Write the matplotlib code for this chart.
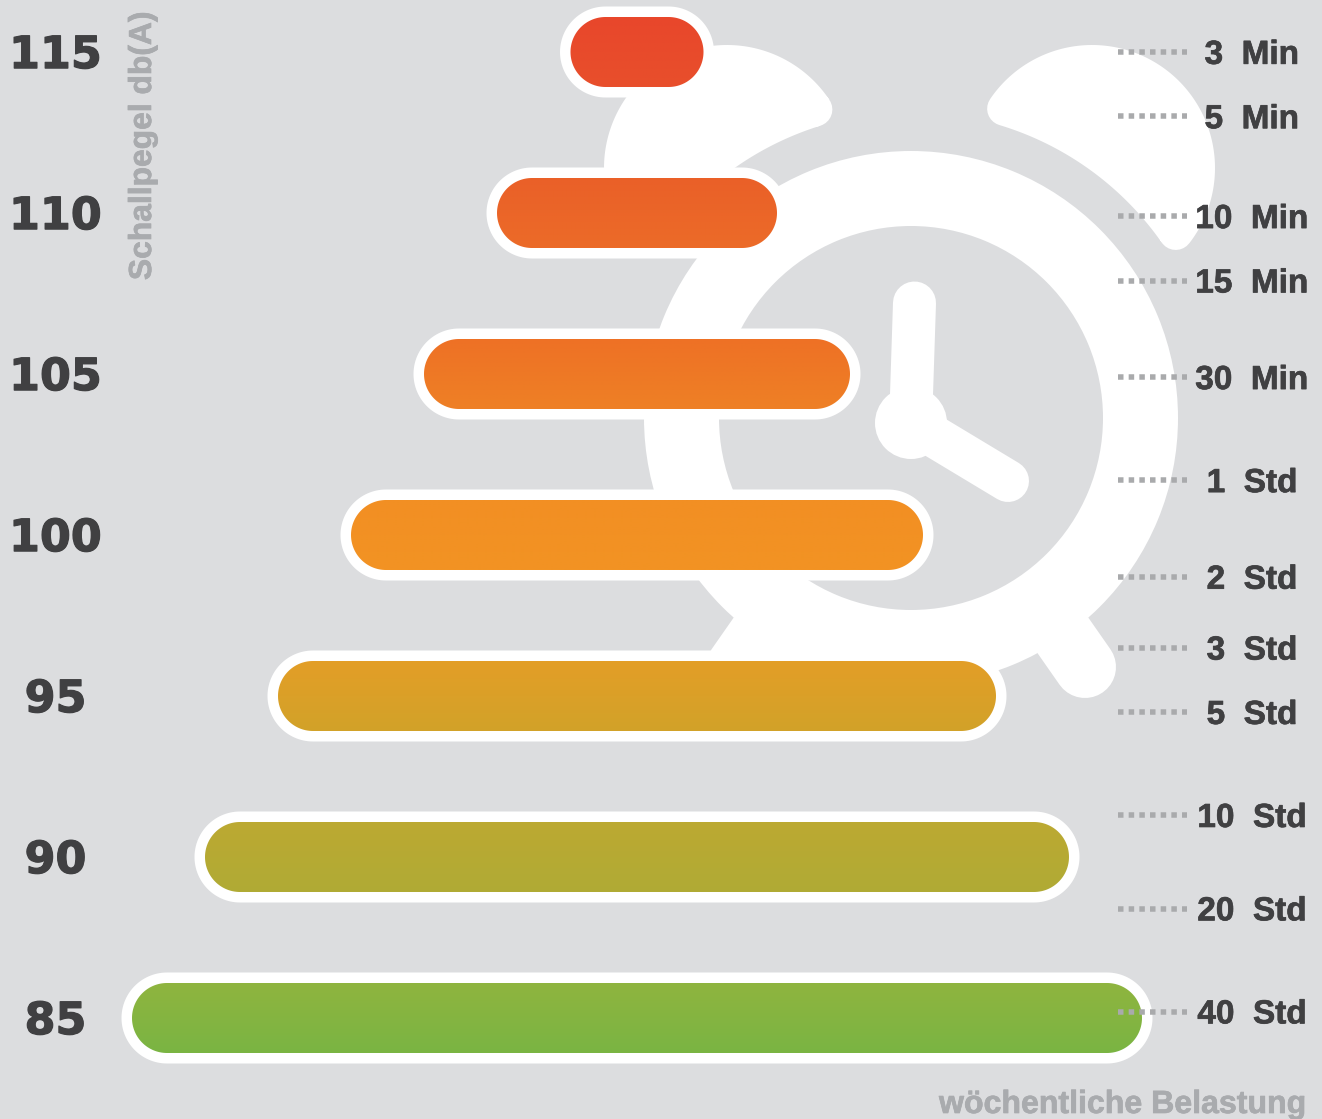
import numpy as np
import matplotlib
matplotlib.use("Agg")
import matplotlib.pyplot as plt
import matplotlib.patheffects as pe
from matplotlib.path import Path
from matplotlib.patches import PathPatch, Circle, Wedge
from matplotlib.transforms import Affine2D

# ---- data ----
levels_db = [115, 110, 105, 100, 95, 90, 85]
bar_lengths = [133, 280, 426, 572, 718, 864, 1010]
colors_top = ["#e8472b", "#ea6028", "#ee7125", "#f28f23", "#e39e27", "#bca932", "#8fb43f"]
colors_bottom = ["#e84f2c", "#ec6b28", "#ee8026", "#f29323", "#d2a229", "#b0ab35", "#7ab543"]
exposure_labels = ["3  Min", "5  Min", "10  Min", "15  Min", "30  Min", "1  Std", "2  Std",
                   "3  Std", "5  Std", "10  Std", "20  Std", "40  Std"]
exposure_db = [115.0, 113.0, 109.9, 107.9, 104.9, 101.7, 98.7, 96.5, 94.5, 91.3, 88.4, 85.2]
y_title = "Schallpegel db(A)"
x_title = "wöchentliche Belastung"

BG = "#dcdddf"
DARK = "#404042"
GREY = "#a9abae"
W, H = 1322, 1119
PX = 0.72
PX_PER_DB = 32.2
Y115 = 52.0
BAR_CX = 637.0

fig = plt.figure(figsize=(W / 100, H / 100), dpi=100, facecolor=BG)
ax = fig.add_axes([0, 0, 1, 1])
ax.set_axis_off()
deco = Affine2D().scale(1, -1).translate(0, H)  # pixel layout, y down


def rgb(c):
    return np.array(matplotlib.colors.to_rgb(c))


def heavy(px, color):
    return [pe.withStroke(linewidth=px * PX, foreground=color)]


# ---- clock silhouette ----
CX, CY = 911.0, 418.0
clock = dict(color="white", lw=0, transform=deco, zorder=1)
ax.add_patch(Wedge((CX, CY), 267, 0, 360, width=75, **clock))


def bell(offset):
    bx, by = CX + offset, 168.0
    r, R = 106.0, 323.0
    d = np.hypot(bx - CX, by - CY)
    base = np.arctan2(by - CY, bx - CX)
    half = np.arccos((R**2 + d**2 - r**2) / (2 * R * d))
    outer = np.linspace(base - half, base + half, 80)
    inner_pts = np.c_[CX + R * np.cos(outer), CY + R * np.sin(outer)]
    p1, p2 = inner_pts[-1], inner_pts[0]
    a1 = np.arctan2(p1[1] - by, p1[0] - bx)
    a2 = np.arctan2(p2[1] - by, p2[0] - bx)
    a_start, a_end = a1, a2
    if a_end < a_start:
        a_end += 2 * np.pi
    t = np.linspace(a_start, a_end, 120)
    if not np.any(np.isclose(np.cos(t - base), 1, atol=1e-2)):
        t = np.linspace(a_start, a_end - 2 * np.pi, 120)
    arc = np.c_[bx + r * np.cos(t), by + r * np.sin(t)]
    pts = np.vstack([inner_pts, arc, inner_pts[:1]])
    ax.add_patch(PathPatch(Path(pts, closed=True), facecolor="white", edgecolor="white",
                           lw=34 * PX, joinstyle="round", transform=deco, zorder=1))


bell(181)
bell(-184)


def thick(x, y, w):
    ax.plot(x, y, color="white", lw=w * PX, solid_capstyle="round", transform=deco, zorder=1)


thick([1041, 1085], [604, 667], 62)
thick([781, 737], [604, 667], 62)
thick([911, 914.5], [410, 303], 43)
thick([915, 1008], [425, 481], 42)
ax.add_patch(Circle((911, 423), 36, **clock))


# ---- bars ----
def stadium(x0, x1, yc, r):
    rdb = r / PX_PER_DB
    th = np.linspace(-np.pi / 2, np.pi / 2, 60)
    right = np.c_[x1 - r + r * np.cos(th), yc + rdb * np.sin(th)]
    left = np.c_[x0 + r - r * np.cos(th[::-1]), yc + rdb * np.sin(th[::-1])]
    return np.vstack([right, left, right[:1]])


for db, length, ct, cb in zip(levels_db, bar_lengths, colors_top, colors_bottom):
    x0, x1 = BAR_CX - length / 2, BAR_CX + length / 2
    outer = stadium(x0 - 10.5, x1 + 10.5, db, 45.5)
    inner = stadium(x0, x1, db, 35)
    mid = PathPatch(Path(stadium(x0 - 3, x1 + 3, db, 38), closed=True), fc="white", lw=0, zorder=2)
    ax.add_patch(mid)
    grad = np.linspace(rgb(ct), rgb(cb), 64)[:, None, :]
    rdb = 35 / PX_PER_DB
    im = ax.imshow(grad, extent=[x0 - 3, x1 + 3, db - rdb, db + rdb], origin="upper",
                   aspect="auto", interpolation="bilinear", zorder=3)
    im.set_clip_path(mid)
    ring = np.vstack([outer, inner[::-1]])
    codes = np.full(len(ring), Path.LINETO)
    codes[0] = codes[len(outer)] = Path.MOVETO
    ax.add_patch(PathPatch(Path(ring, codes), fc="white", lw=0, zorder=3.5))
    ax.annotate(str(db), (55.5, db), xytext=(0, -2.6), textcoords="offset points",
                ha="center", va="center", color=DARK, fontsize=32,
                fontfamily="DejaVu Sans", fontweight="bold", zorder=5,
                path_effects=heavy(1.2, DARK))

# ---- exposure labels ----
for lab, db in zip(exposure_labels, exposure_db):
    ax.plot([1118, 1187], [db, db], color="#a9aaac", lw=5.5 * PX, linestyle=(0, (1, 0.94)),
            dash_capstyle="butt", zorder=4)
    ax.annotate(lab, (1252, db), xytext=(0, -2.4), textcoords="offset points",
                ha="center", va="center", color=DARK, fontsize=24,
                fontfamily="Liberation Sans", fontweight="bold", zorder=5,
                path_effects=heavy(0.7, DARK))

ax.text(143, 146, y_title, rotation=90, ha="center", va="center", color=GREY, fontsize=22.9,
        fontfamily="Liberation Sans", fontweight="bold", transform=deco, zorder=5,
        path_effects=heavy(0.7, GREY))
ax.text(1307, 1113, x_title, ha="right", va="baseline", color=GREY, fontsize=23.1,
        fontfamily="Liberation Sans", fontweight="bold", transform=deco, zorder=5,
        path_effects=heavy(0.7, GREY))

ax.set_xlim(0, W)
ax.set_ylim(115 - (H - Y115) / PX_PER_DB, 115 + Y115 / PX_PER_DB)
fig.savefig("out.png", dpi=100, facecolor=BG)
